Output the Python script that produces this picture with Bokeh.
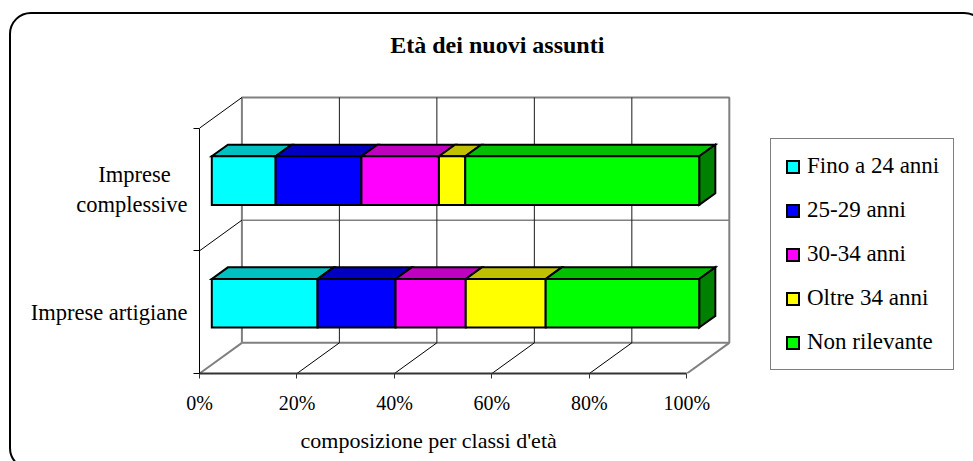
from bokeh.plotting import figure
from bokeh.models import (Range1d, FixedTicker, LinearAxis, Legend, LegendItem, Label, Title,
                          InlineStyleSheet)
from bokeh.embed import file_html
from bokeh.resources import INLINE

# ---------------- data ----------------
categories = ["Imprese artigiane", "Imprese complessive"]
category_labels = ["Imprese artigiane", "Imprese\u00a0\u00a0\u00a0\ncomplessive"]
age_classes = ["Fino a 24 anni", "25-29 anni", "30-34 anni", "Oltre 34 anni", "Non rilevante"]
artigiane = [21.7, 16.0, 14.4, 16.4, 31.5]
complessive = [13.1, 17.6, 15.9, 5.4, 48.0]
x_ticks = [0, 20, 40, 60, 80, 100]
x_tick_labels = ["0%", "20%", "40%", "60%", "80%", "100%"]
title_text = "Età dei nuovi assunti"
x_axis_title = "composizione per classi d'età"

front_colors = ["#00FFFF", "#0000FF", "#FF00FF", "#FFFF00", "#00FF00"]
top_colors = ["#00C0C0", "#0000C0", "#C000C0", "#C0C000", "#00C000"]
side_color = "#008000"

series = [artigiane, complessive]

# ---------------- 3D geometry (data units) ----------------
DX = 8.70     # full depth, in % units
DY = 0.25     # full depth, in category units
F0, F1 = 0.29, 0.67   # bar front / back depth fraction
HALF = 0.198  # half bar height (category units)
N_CAT = len(categories)
X_MAX = x_ticks[-1]

FONT = "Liberation Serif"

p = figure(width=973, height=461,
           x_range=Range1d(0, 158.8), y_range=Range1d(0, 3.0407),
           x_axis_type=None, y_axis_type=None,
           output_backend="svg", toolbar_location=None,
           min_border_left=199, min_border_right=0,
           min_border_top=0, min_border_bottom=80)
p.grid.visible = False
p.outline_line_color = None
p.background_fill_color = "white"
p.border_fill_color = "white"

# rounded outer frame of the chart area
p.stylesheets = [InlineStyleSheet(css="""
:host { position: relative; overflow: hidden; }
:host::after {
  content: ""; position: absolute; left: 9px; top: 12px; width: 977px; height: 458px;
  box-sizing: border-box; border: 2.5px solid #000; border-radius: 22px;
  pointer-events: none; z-index: 100;
}
""")]

# ---------------- walls / floor ----------------
p.line([DX, X_MAX + DX, X_MAX + DX, DX, DX],
       [DY, DY, N_CAT + DY, N_CAT + DY, DY], line_color="#808080", line_width=2)
p.multi_line([[DX, X_MAX + DX] for c in range(1, N_CAT)],
             [[c + DY, c + DY] for c in range(1, N_CAT)], line_color="#808080", line_width=1.5)
inner = x_ticks[1:-1]
p.multi_line([[t + DX, t + DX] for t in inner], [[DY, N_CAT + DY] for t in inner],
             line_color="#1a1a1a", line_width=1)
p.multi_line([[t, t + DX] for t in inner], [[0, DY] for t in inner],
             line_color="black", line_width=1)
p.multi_line([[0, DX], [X_MAX, X_MAX + DX]], [[0, DY], [0, DY]],
             line_color="#808080", line_width=2)
p.multi_line([[0, DX] for c in range(1, N_CAT + 1)],
             [[c, c + DY] for c in range(1, N_CAT + 1)], line_color="black", line_width=1)

# ---------------- bars ----------------
ox0, oy0 = F0 * DX, F0 * DY
odx, ody = (F1 - F0) * DX, (F1 - F0) * DY

front_renderers = []
for k in range(len(age_classes)):
    lefts, rights, bottoms, tops = [], [], [], []
    txs, tys = [], []
    for ci, vals in enumerate(series):
        start = sum(vals[:k])
        end = start + vals[k]
        c = ci + 0.5
        l, r = start + ox0, end + ox0
        b, t = c - HALF + oy0, c + HALF + oy0
        lefts.append(l); rights.append(r); bottoms.append(b); tops.append(t)
        txs.append([l, r, r + odx, l + odx])
        tys.append([t, t, t + ody, t + ody])
    p.patches(txs, tys, fill_color=top_colors[k], line_color="black", line_width=2, line_join="miter")
    if k == len(age_classes) - 1:
        sxs = [[r, r + odx, r + odx, r] for r in rights]
        sys_ = [[b, b + ody, t + ody, t] for b, t in zip(bottoms, tops)]
        p.patches(sxs, sys_, fill_color=side_color, line_color="black", line_width=2, line_join="miter")
    fr = p.quad(left=lefts, right=rights, bottom=bottoms, top=tops,
                fill_color=front_colors[k], line_color="black", line_width=2, line_join="miter")
    front_renderers.append(fr)

# ---------------- axes ----------------
xaxis = LinearAxis(ticker=FixedTicker(ticks=x_ticks),
                   major_label_overrides={t: l for t, l in zip(x_ticks, x_tick_labels)},
                   bounds=(0, X_MAX), major_tick_out=5, major_tick_in=0,
                   major_tick_line_color="#333333",
                   axis_line_color="#333333", axis_line_width=2,
                   major_label_standoff=13,
                   major_label_text_font=FONT, major_label_text_font_size="20px",
                   major_label_text_color="black")
p.add_layout(xaxis, "below")
p.add_layout(Title(text=x_axis_title, align="left", offset=101, standoff=18,
                   text_font=FONT, text_font_size="22px", text_font_style="normal",
                   text_color="black"), "below")

cat_pos = [i + 0.5 for i in range(N_CAT)]
yaxis = LinearAxis(ticker=FixedTicker(ticks=cat_pos, minor_ticks=list(range(N_CAT + 1))),
                   major_label_overrides={pos: lab for pos, lab in zip(cat_pos, category_labels)},
                   bounds=(0, N_CAT), major_tick_out=0, major_tick_in=0,
                   minor_tick_out=6, minor_tick_in=0, minor_tick_line_color="black",
                   axis_line_color="black", axis_line_width=1,
                   major_label_standoff=6,
                   major_label_text_font=FONT, major_label_text_font_size="22.5px",
                   major_label_text_color="black", major_label_text_align="center")
p.add_layout(yaxis, "left")

# ---------------- legend ----------------
legend = Legend(items=[LegendItem(label=a, renderers=[r]) for a, r in zip(age_classes, front_renderers)],
                location=(571, 3), orientation="vertical",
                border_line_color="black", border_line_width=1,
                background_fill_color="white", background_fill_alpha=1,
                label_text_font=FONT, label_text_font_size="23px", label_text_color="black",
                glyph_width=15, glyph_height=15, label_standoff=7,
                spacing=18, padding=14, margin=0)
p.add_layout(legend)

# ---------------- title ----------------
p.add_layout(Label(x=61.1, y=2.674, text=title_text, text_align="center", text_baseline="middle",
                   text_font=FONT, text_font_size="24px", text_font_style="bold", text_color="black"))

open("out.html", "w").write(file_html(p, INLINE))
